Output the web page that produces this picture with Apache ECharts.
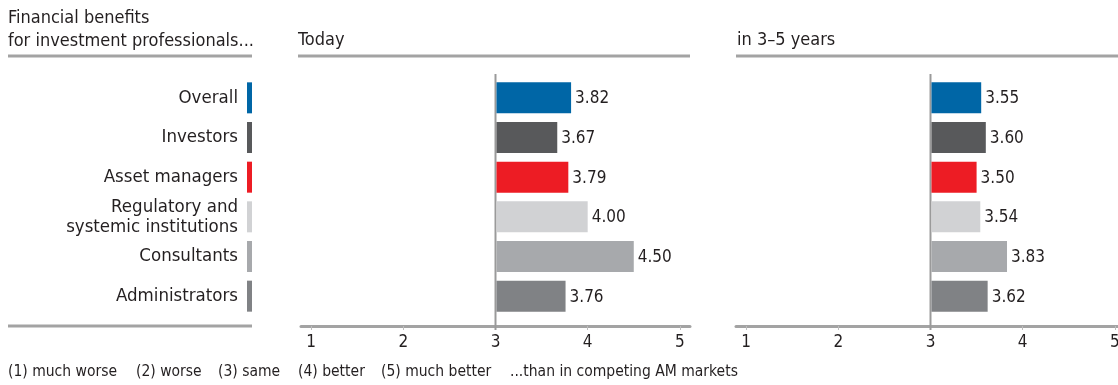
<!DOCTYPE html>
<html>
<head>
<meta charset="utf-8">
<script src="https://cdn.jsdelivr.net/npm/echarts@6/dist/echarts.min.js"></script>
<style>
  html, body { margin: 0; padding: 0; background: #ffffff; }
  #chart { width: 1118px; height: 385px; }
</style>
</head>
<body>
<div id="chart"></div>
<script>
// Survey groups and mean scores (1 = much worse ... 5 = much better)
const categories = ['Overall', 'Investors', 'Asset managers', 'Regulatory and\nsystemic institutions', 'Consultants', 'Administrators'];
const todayValues = [3.82, 3.67, 3.79, 4.00, 4.50, 3.76];
const futureValues = [3.55, 3.60, 3.50, 3.54, 3.83, 3.62];
const groupColors = ['#0066a6', '#58595b', '#ed1c24', '#d1d2d4', '#a7a9ac', '#808285'];
const panelTitles = ['Today', 'in 3–5 years'];
const scaleTicks = [1, 2, 3, 4, 5];
const headerLines = ['Financial benefits', 'for investment professionals...'];
const scaleNotes = ['(1) much worse', '(2) worse', '(3) same', '(4) better', '(5) much better', '...than in competing AM markets'];
const BASE = 3; // "same" – bars grow from here

const FONT = '"DejaVu Sans Condensed", "Liberation Sans Narrow", sans-serif';
const INK = '#231f20';
const RULE = '#a3a3a3';

const GRID_TOP = 78, GRID_H = 238;
const panelLeft = [301, 736];
const PANEL_W = 389;

const chart = echarts.init(document.getElementById('chart'), null, { renderer: 'canvas' });

function panelAxes(idx) {
  return {
    x: {
      type: 'value', gridIndex: idx, min: 0.89, max: 5.11, offset: 10,
      axisLine: { show: true, lineStyle: { color: RULE, width: 3 } },
      axisTick: { show: true, customValues: scaleTicks, length: 4, lineStyle: { color: '#bdbdbd', width: 1 } },
      axisLabel: { customValues: scaleTicks, fontFamily: FONT, fontSize: 17, color: INK, margin: 8 },
      splitLine: { show: false }
    },
    y: {
      type: 'category', gridIndex: idx, data: categories, inverse: true, show: false
    }
  };
}

function scoreBars(values, idx) {
  return {
    type: 'custom', xAxisIndex: idx, yAxisIndex: idx,
    data: values.map((v, i) => [v, i]),
    encode: { x: 0, y: 1 },
    renderItem(params, api) {
      const v = api.value(0), i = api.value(1);
      const start = api.coord([BASE, i]);
      const end = api.coord([v, i]);
      const h = api.size([0, 1])[1] * 0.78;
      return {
        type: 'group',
        children: [
          { type: 'rect', shape: { x: start[0] + 1, y: start[1] - h / 2, width: end[0] - start[0] - 1, height: h },
            style: { fill: groupColors[i] } },
          { type: 'text', x: end[0] + 4, y: end[1] + 1,
            style: { text: v.toFixed(2), verticalAlign: 'middle', align: 'left', font: '17px ' + FONT, fill: INK } }
        ]
      };
    }
  };
}

function baseLine(idx) {
  return {
    type: 'custom', xAxisIndex: idx, yAxisIndex: idx, silent: true,
    data: [[BASE, 0]],
    encode: { x: 0, y: 1 },
    renderItem(params, api) {
      const p = api.coord([BASE, 0]);
      const cs = params.coordSys;
      return {
        type: 'line',
        shape: { x1: p[0], y1: cs.y - 4, x2: p[0], y2: cs.y + cs.height + 14 },
        style: { stroke: '#9a9a9a', lineWidth: 2 }
      };
    }
  };
}

const a0 = panelAxes(1), a1 = panelAxes(2);

const option = {
  animation: false,
  backgroundColor: '#ffffff',
  grid: [
    { left: 247, width: 5, top: GRID_TOP, height: GRID_H, outerBoundsMode: 'none', containLabel: false },
    { left: panelLeft[0], width: PANEL_W, top: GRID_TOP, height: GRID_H, outerBoundsMode: 'none', containLabel: false },
    { left: panelLeft[1], width: PANEL_W, top: GRID_TOP, height: GRID_H, outerBoundsMode: 'none', containLabel: false }
  ],
  xAxis: [
    { type: 'value', gridIndex: 0, min: 0, max: 1, show: false },
    a0.x, a1.x
  ],
  yAxis: [
    {
      type: 'category', gridIndex: 0, data: categories, inverse: true,
      axisLine: { show: false }, axisTick: { show: false },
      axisLabel: { fontFamily: FONT, fontSize: 18.5, color: INK, margin: 9, lineHeight: 20, align: 'right' }
    },
    a0.y, a1.y
  ],
  series: [
    {
      type: 'bar', xAxisIndex: 0, yAxisIndex: 0, barWidth: 31, silent: true,
      data: categories.map((c, i) => ({ value: 1, itemStyle: { color: groupColors[i] } }))
    },
    baseLine(1), baseLine(2),
    scoreBars(todayValues, 1),
    scoreBars(futureValues, 2)
  ],
  graphic: [
    // header rules
    { type: 'line', shape: { x1: 8, y1: 56, x2: 252, y2: 56 }, style: { stroke: RULE, lineWidth: 3 } },
    { type: 'line', shape: { x1: 298, y1: 56, x2: 690, y2: 56 }, style: { stroke: RULE, lineWidth: 3 } },
    { type: 'line', shape: { x1: 736, y1: 56, x2: 1118, y2: 56 }, style: { stroke: RULE, lineWidth: 3 } },
    // rule below the group labels
    { type: 'line', shape: { x1: 8, y1: 326, x2: 252, y2: 326 }, style: { stroke: RULE, lineWidth: 3 } },
    // headings
    { type: 'text', x: 8, y: 7, style: { text: headerLines.join('\n'), font: '18px ' + FONT, fill: INK, lineHeight: 23 } },
    { type: 'text', x: 298, y: 31, style: { text: panelTitles[0], font: '18px ' + FONT, fill: INK } },
    { type: 'text', x: 737, y: 31, style: { text: panelTitles[1], font: '18px ' + FONT, fill: INK } }
  ].concat(scaleNotes.map((t, i) => ({
    type: 'text', x: [8, 136, 218, 298, 381, 510][i], y: 372,
    style: { text: t, font: '15.5px ' + FONT, fill: INK, verticalAlign: 'middle' }
  })))
};

chart.setOption(option);
</script>
</body>
</html>
